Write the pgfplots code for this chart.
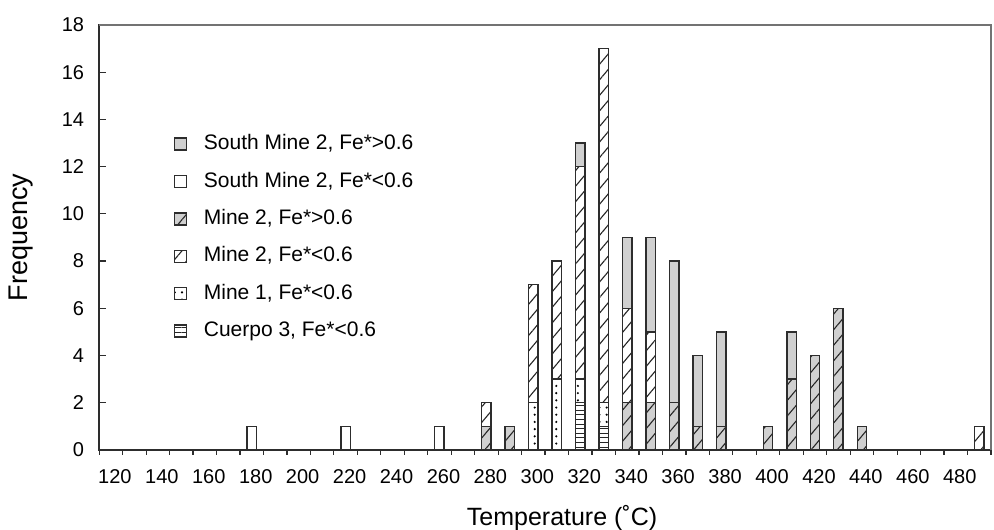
\documentclass[border=0pt]{standalone}
\usepackage{fontspec}
\setmainfont{Liberation Sans}
\usepackage{pgfplots}
\usepackage{pgfplotstable}
\pgfplotsset{compat=1.18}
\usetikzlibrary{patterns.meta,calc}
\definecolor{barfill}{RGB}{208,208,208}
\definecolor{edge}{RGB}{45,45,45}

% counts per 10-degree bin, bottom to top of each stack
\pgfplotstableread{
T   cu  m1  m2h  m2l  sl  sh
180 0   0   0    0    1   0
220 0   0   0    0    1   0
260 0   0   0    0    1   0
280 0   0   1    1    0   0
290 0   0   1    0    0   0
300 0   2   0    5    0   0
310 0   3   0    5    0   0
320 2   1   0    9    0   1
330 1   1   0    15   0   0
340 0   0   2    4    0   3
350 0   0   2    3    0   4
360 0   0   2    0    0   6
370 0   0   1    0    0   3
380 0   0   1    0    0   4
400 0   0   1    0    0   0
410 0   0   3    0    0   2
420 0   0   4    0    0   0
430 0   0   6    0    0   0
440 0   0   1    0    0   0
490 0   0   0    1    0   0
}\bins

\tikzset{
  hatch/.style={postaction={pattern={Lines[angle=50,distance=5pt,line width=0.55pt]},pattern color=black!85}},
  dotty/.style={postaction={pattern={Dots[distance=3.6pt,radius=0.6pt,xshift=1pt]},pattern color=black}},
  hlines/.style={postaction={pattern={Lines[angle=0,distance=2.3pt,line width=0.45pt]},pattern color=black!85}},
}

\begin{document}
\begin{tikzpicture}
\begin{axis}[
  name=ax,
  scale only axis,
  width=446pt, height=212.5pt,
  xmin=115, xmax=495,
  ymin=0, ymax=18,
  ybar stacked,
  bar width=4,
  ytick={0,2,...,18},
  xtick={120,140,...,480},
  minor xtick={115,125,...,495},
  major x tick style={draw=none},
  minor x tick style={yshift=-2.5pt, edge, line width=0.6pt},
  ytick style={edge, line width=0.6pt},
  xtick pos=bottom, ytick pos=left,
  tick align=inside,
  major tick length=3.5pt,
  minor tick length=2.5pt,
  axis line style={edge, line width=0.8pt},
  /pgf/number format/assume math mode=true,
  tick label style={font=\fontsize{10}{12}\selectfont},
  xticklabel style={xshift=2pt, yshift=-6.5pt},
  yticklabel style={xshift=-4pt},
  xlabel={Temperature (˚C)},
  ylabel={Frequency},
  xlabel style={font=\fontsize{12.5}{15}\selectfont, at={(axis description cs:0.519,-0.179)}, anchor=base},
  ylabel style={font=\fontsize{13.5}{16}\selectfont, at={(axis description cs:-0.088,0.5)}, anchor=center},
  every axis plot/.append style={draw=edge, line width=0.7pt},
  legend image code/.code={\draw[#1] (0pt,-3pt) rectangle (6pt,3pt);},
  legend cell align=left,
  legend style={draw=none, fill=none, at={(axis cs:146.5,13.5)}, anchor=north west,
    inner sep=0pt, row sep=6.2pt, column sep=7.5pt,
    font=\fontsize{10.5}{12.5}\selectfont,
    nodes={inner sep=1pt, text height=8pt, text depth=2.5pt}},
]
\addlegendimage{fill=barfill, draw=edge, line width=0.7pt}
\addlegendentry{South Mine 2, Fe*>0.6}
\addlegendimage{fill=white, draw=edge, line width=0.7pt}
\addlegendentry{South Mine 2, Fe*<0.6}
\addlegendimage{fill=barfill, draw=edge, line width=0.7pt, hatch}
\addlegendentry{Mine 2, Fe*>0.6}
\addlegendimage{fill=white, draw=edge, line width=0.7pt, hatch}
\addlegendentry{Mine 2, Fe*<0.6}
\addlegendimage{fill=white, draw=edge, line width=0.7pt, dotty}
\addlegendentry{Mine 1, Fe*<0.6}
\addlegendimage{fill=white, draw=edge, line width=0.7pt, hlines}
\addlegendentry{Cuerpo 3, Fe*<0.6}

\addplot[fill=white, hlines, forget plot] table[x=T, y=cu] {\bins};
\addplot[fill=white, dotty, forget plot] table[x=T, y=m1] {\bins};
\addplot[fill=barfill, hatch, forget plot] table[x=T, y=m2h] {\bins};
\addplot[fill=white, hatch, forget plot] table[x=T, y=m2l] {\bins};
\addplot[fill=white, forget plot] table[x=T, y=sl] {\bins};
\addplot[fill=barfill, forget plot] table[x=T, y=sh] {\bins};
\end{axis}
\draw[black!55, line width=1pt] (ax.north west) -- (ax.north east) -- (ax.south east);
\pgfresetboundingbox
\path[use as bounding box] ($(ax.south west)+(-49.6pt,-40pt)$) rectangle ($(ax.north east)+(1.5pt,12.5pt)$);
\end{tikzpicture}
\end{document}
